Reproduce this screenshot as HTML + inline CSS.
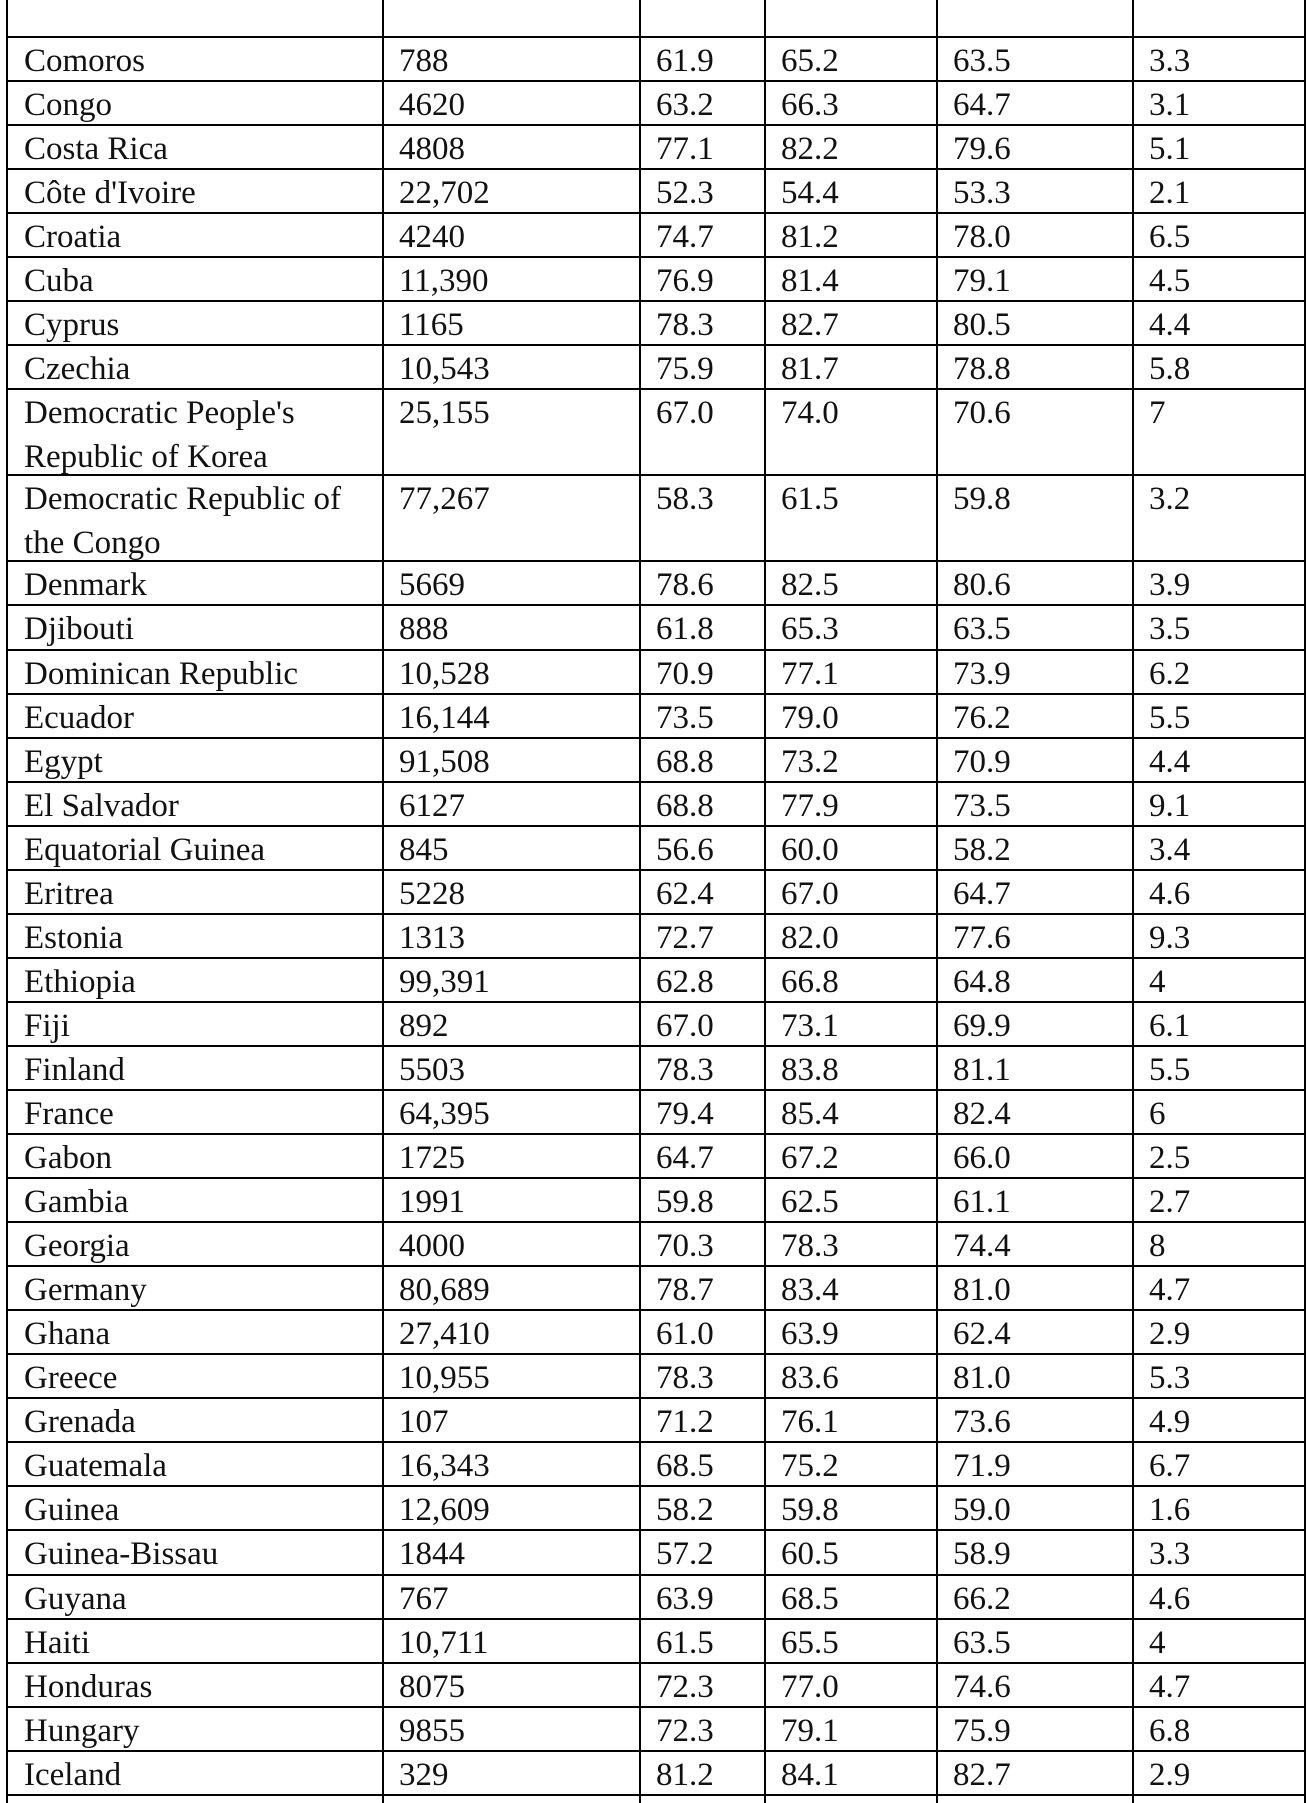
<!DOCTYPE html>
<html><head><meta charset="utf-8">
<style>
html,body{margin:0;padding:0;background:#fff;width:1308px;height:1803px;overflow:hidden;position:relative}
.h{position:absolute;height:2px;background:#000}
.v{position:absolute;width:2px;background:#000}
.t{position:absolute;font-family:"Liberation Serif",serif;font-size:33px;line-height:44px;color:#111;white-space:nowrap}
</style></head><body>
<div id="tbl"></div>
<script>
const countries=["Comoros","Congo","Costa Rica","Côte d'Ivoire","Croatia","Cuba","Cyprus","Czechia","Democratic People's|Republic of Korea","Democratic Republic of|the Congo","Denmark","Djibouti","Dominican Republic","Ecuador","Egypt","El Salvador","Equatorial Guinea","Eritrea","Estonia","Ethiopia","Fiji","Finland","France","Gabon","Gambia","Georgia","Germany","Ghana","Greece","Grenada","Guatemala","Guinea","Guinea-Bissau","Guyana","Haiti","Honduras","Hungary","Iceland"];
const population=["788","4620","4808","22,702","4240","11,390","1165","10,543","25,155","77,267","5669","888","10,528","16,144","91,508","6127","845","5228","1313","99,391","892","5503","64,395","1725","1991","4000","80,689","27,410","10,955","107","16,343","12,609","1844","767","10,711","8075","9855","329"];
const male=["61.9","63.2","77.1","52.3","74.7","76.9","78.3","75.9","67.0","58.3","78.6","61.8","70.9","73.5","68.8","68.8","56.6","62.4","72.7","62.8","67.0","78.3","79.4","64.7","59.8","70.3","78.7","61.0","78.3","71.2","68.5","58.2","57.2","63.9","61.5","72.3","72.3","81.2"];
const female=["65.2","66.3","82.2","54.4","81.2","81.4","82.7","81.7","74.0","61.5","82.5","65.3","77.1","79.0","73.2","77.9","60.0","67.0","82.0","66.8","73.1","83.8","85.4","67.2","62.5","78.3","83.4","63.9","83.6","76.1","75.2","59.8","60.5","68.5","65.5","77.0","79.1","84.1"];
const both=["63.5","64.7","79.6","53.3","78.0","79.1","80.5","78.8","70.6","59.8","80.6","63.5","73.9","76.2","70.9","73.5","58.2","64.7","77.6","64.8","69.9","81.1","82.4","66.0","61.1","74.4","81.0","62.4","81.0","73.6","71.9","59.0","58.9","66.2","63.5","74.6","75.9","82.7"];
const gap=["3.3","3.1","5.1","2.1","6.5","4.5","4.4","5.8","7","3.2","3.9","3.5","6.2","5.5","4.4","9.1","3.4","4.6","9.3","4","6.1","5.5","6","2.5","2.7","8","4.7","2.9","5.3","4.9","6.7","1.6","3.3","4.6","4","4.7","6.8","2.9"];
const colX=[6,382,639,764,936,1132,1304];
const root=document.getElementById('tbl');
function add(cls,st){const d=document.createElement('div');d.className=cls;Object.assign(d.style,st);root.appendChild(d);return d;}
let y=36;const single=44.05,dbl=86;
const rowTops=[];
for(let i=0;i<countries.length;i++){rowTops.push(y);y+=countries[i].includes('|')?dbl:single;}
const bottom=y;
const lines=rowTops.concat([bottom]);
for(const ly of lines){
  const hl=add('h',{left:colX[0]+'px',top:Math.round(ly)+'px',width:(colX[6]-colX[0]+2)+'px'});
  
  
}
for(const cx of colX){
  const vl=add('v',{left:cx+'px',top:'0px',height:'1803px'});
  
  
}
for(let i=0;i<countries.length;i++){
  const top=Math.round(rowTops[i])+3;
  const vals=[countries[i],population[i],male[i],female[i],both[i],gap[i]];
  for(let c=0;c<6;c++){
    const x=(c===0?colX[0]+18:colX[c]+17);
    const el=add('t',{left:x+'px',top:top+'px'});
    el.innerHTML=vals[c].split('|').join('<br>');
    
    
  }
}
</script>
</body></html>
